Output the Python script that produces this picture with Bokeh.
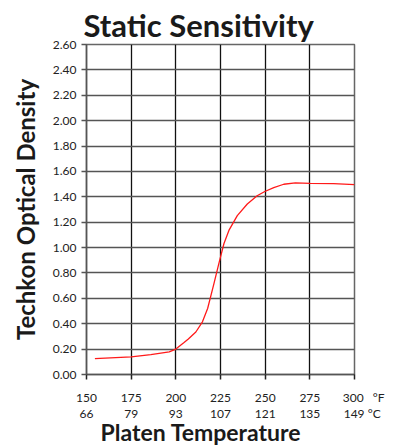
from bokeh.plotting import figure
from bokeh.models import LinearAxis, FixedTicker, Range1d, NumeralTickFormatter
from bokeh.embed import file_html
from bokeh.resources import INLINE

# ---- data ----
temp_f = [154.7, 175, 186, 196.3, 200, 204.6, 207, 211.2, 214.9, 217.8, 221.4, 224.1, 226.9,
          229.7, 234.4, 240, 245.5, 249.8, 254.8, 260.4, 266.9, 275.2, 288.3, 300]
density = [0.125, 0.139, 0.157, 0.178, 0.20, 0.252, 0.28, 0.335, 0.415, 0.52, 0.72, 0.875, 1.03,
           1.135, 1.252, 1.343, 1.408, 1.442, 1.473, 1.499, 1.509, 1.506, 1.504, 1.496]
f_ticks = [150, 175, 200, 225, 250, 275, 300]
f_labels = ["150", "175", "200", "225", "250", "275", "300"]
c_labels = ["66", "79", "93", "107", "121", "135", "149"]
y_ticks = [0.0, 0.2, 0.4, 0.6, 0.8, 1.0, 1.2, 1.4, 1.6, 1.8, 2.0, 2.2, 2.4, 2.6]

TITLE = "Static Sensitivity"
YLABEL = "Techkon Optical Density"
XLABEL = "Platen Temperature"

FONT = "Lato"
TXT = "#222222"
NB = "\u00a0"

# last labels carry the unit; padding keeps the number centred on its tick
f_over = {t: l for t, l in zip(f_ticks, f_labels)}
f_over[f_ticks[-1]] = NB * 6 + f_labels[-1] + NB * 3 + "°F"
c_over = {t: l for t, l in zip(f_ticks, c_labels)}
c_over[f_ticks[-1]] = NB * 5 + c_labels[-1] + NB * 1 + "°C"

p = figure(width=402, height=448, output_backend="svg", toolbar_location=None,
           x_range=Range1d(150, 300), y_range=Range1d(0, 2.6),
           min_border_left=86, min_border_right=48, min_border_top=44, min_border_bottom=73,
           x_axis_location=None, y_axis_location=None)

p.title.text = TITLE
p.title.text_font = FONT
p.title.text_font_size = "31px"
p.title.text_font_style = "bold"
p.title.text_color = "#1a1a1a"
p.title.align = "left"
p.title.offset = -3
p.title.standoff = 2

p.outline_line_color = "#666666"
p.outline_line_width = 1.5
p.background_fill_color = "white"
p.border_fill_color = "white"

# y axis
yax = LinearAxis(ticker=FixedTicker(ticks=y_ticks), formatter=NumeralTickFormatter(format="0.00"))
yax.axis_label = YLABEL
yax.axis_label_text_font = FONT
yax.axis_label_text_font_style = "bold"
yax.axis_label_text_font_size = "24px"
yax.axis_label_text_color = "#1a1a1a"
yax.axis_label_standoff = 10
yax.major_label_text_font = FONT
yax.major_label_text_font_size = "12px"
yax.major_label_text_color = TXT
yax.major_label_standoff = 5
yax.major_tick_out = 5
yax.major_tick_in = 0
yax.minor_tick_line_color = None
yax.axis_line_color = "#555555"
yax.axis_line_width = 1.5
yax.major_tick_line_color = "#555555"
yax.major_tick_line_width = 1.5
p.add_layout(yax, "left")

# x axis (Fahrenheit)
xax = LinearAxis(ticker=FixedTicker(ticks=f_ticks), major_label_overrides=f_over)
xax.major_label_text_font = FONT
xax.major_label_text_font_size = "12px"
xax.major_label_text_color = TXT
xax.major_label_standoff = 10
xax.major_tick_out = 5
xax.major_tick_in = 0
xax.minor_tick_line_color = None
xax.axis_line_color = "#555555"
xax.axis_line_width = 1.5
xax.major_tick_line_color = "#222222"
xax.major_tick_line_width = 1.5
p.add_layout(xax, "below")

# x axis (Celsius) + axis title
cax = LinearAxis(ticker=FixedTicker(ticks=f_ticks), major_label_overrides=c_over)
cax.major_label_text_font = FONT
cax.major_label_text_font_size = "12px"
cax.major_label_text_color = TXT
cax.major_label_standoff = -8
cax.major_tick_line_color = None
cax.minor_tick_line_color = None
cax.axis_line_color = None
cax.axis_label = XLABEL + NB * 7
cax.axis_label_text_font = FONT
cax.axis_label_text_font_style = "bold"
cax.axis_label_text_font_size = "23px"
cax.axis_label_text_color = "#1a1a1a"
cax.axis_label_standoff = -6
p.add_layout(cax, "below")

# grid
p.xgrid.ticker = FixedTicker(ticks=f_ticks)
p.ygrid.ticker = FixedTicker(ticks=y_ticks)
p.xgrid.grid_line_color = "#111111"
p.xgrid.grid_line_width = 1.3
p.ygrid.grid_line_color = "#555555"
p.ygrid.grid_line_width = 1.5

p.line(temp_f, density, line_color="#ff1a1a", line_width=1.3)

open("out.html", "w").write(file_html(p, INLINE))
